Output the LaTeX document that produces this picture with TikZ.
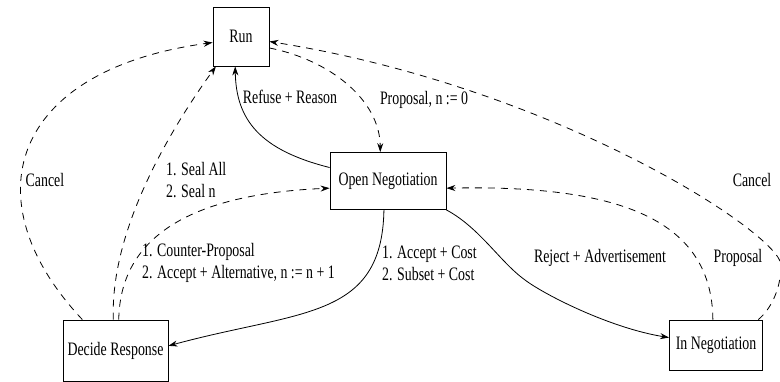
\documentclass[tikz,border=0pt]{standalone}
\usepackage{fontspec}
\setmainfont[FakeStretch=0.73]{Liberation Serif}
\usetikzlibrary{arrows.meta}
\tikzstyle{state} = [rectangle, draw=black, line width=0.8pt, inner sep=0pt, text centered, font=\fontsize{19}{22}\selectfont]
\tikzstyle{lbl} = [inner sep=0pt, align=left, font=\fontsize{19}{22}\selectfont]
\tikzstyle{arrow} = [line width=0.8pt, -{Stealth[length=9pt,width=6pt]}]
\tikzstyle{msg} = [arrow, dash pattern=on 7pt off 6pt]

\begin{document}
\begin{tikzpicture}[x=1pt, y=-1pt]
	\useasboundingbox (0,0) rectangle (780,382);
	\node (run) [state, minimum width=56pt, minimum height=59pt] at (241,36.5) {Run};
	\node (on) [state, minimum width=116pt, minimum height=57pt] at (388,181) {Open Negotiation};
	\node (dr) [state, minimum width=105pt, minimum height=61pt] at (115.5,350.5) {Decide Response};
	\node (in) [state, minimum width=93pt, minimum height=50pt] at (716,345) {In Negotiation};
	% labels
	\node (lcancel) [lbl] at (45,180) {Cancel};
	\node (lseal) [lbl, anchor=west] at (166,180) {1. Seal All\\2. Seal n};
	\node (lrefuse) [lbl] at (290,97) {Refuse + Reason};
	\node (lprop) [lbl] at (424,100) {Proposal, n := 0};
	\node (lcounter) [lbl, anchor=west] at (142,263) {1. Counter-Proposal\\2. Accept + Alternative, n := n + 1};
	\node (laccept) [lbl, anchor=west] at (382,263) {1. Accept + Cost\\2. Subset + Cost};
	\node (lreject) [lbl] at (600,258) {Reject + Advertisement};
	\node (lpropin) [lbl] at (738,258) {Proposal};
	\node (lcancelin) [lbl] at (752,180) {Cancel};
	% transitions
	\draw [msg] (dr.137) .. controls (-30,200) and (10,70) .. (run.192);
	\draw [msg] (dr.94) .. controls (110,230) and (170,130) .. (run.230);
	\draw [msg] (dr.84) .. controls (120,250) and (170,195) .. (on.187);
	\draw [arrow] (on.167) .. controls (260,150) and (236,120) .. (run.259);
	\draw [msg] (run.338) .. controls (330,60) and (380,100) .. (on.105);
	\draw [arrow] (on.262) .. controls (382,320) and (300,310) .. (dr.5);
	\draw [arrow] (on.south east) .. controls (480,228) and (500,262) .. (525,280) .. controls (545,295) and (610,328) .. (in.171);
	\draw [msg] (in.97) .. controls (712,215) and (610,185) .. (on.353);
	\draw [msg] (in.31) .. controls (770,310) and (781,290) .. (781,265) .. controls (781,235) and (560,88) .. (run.350);
\end{tikzpicture}
\end{document}
